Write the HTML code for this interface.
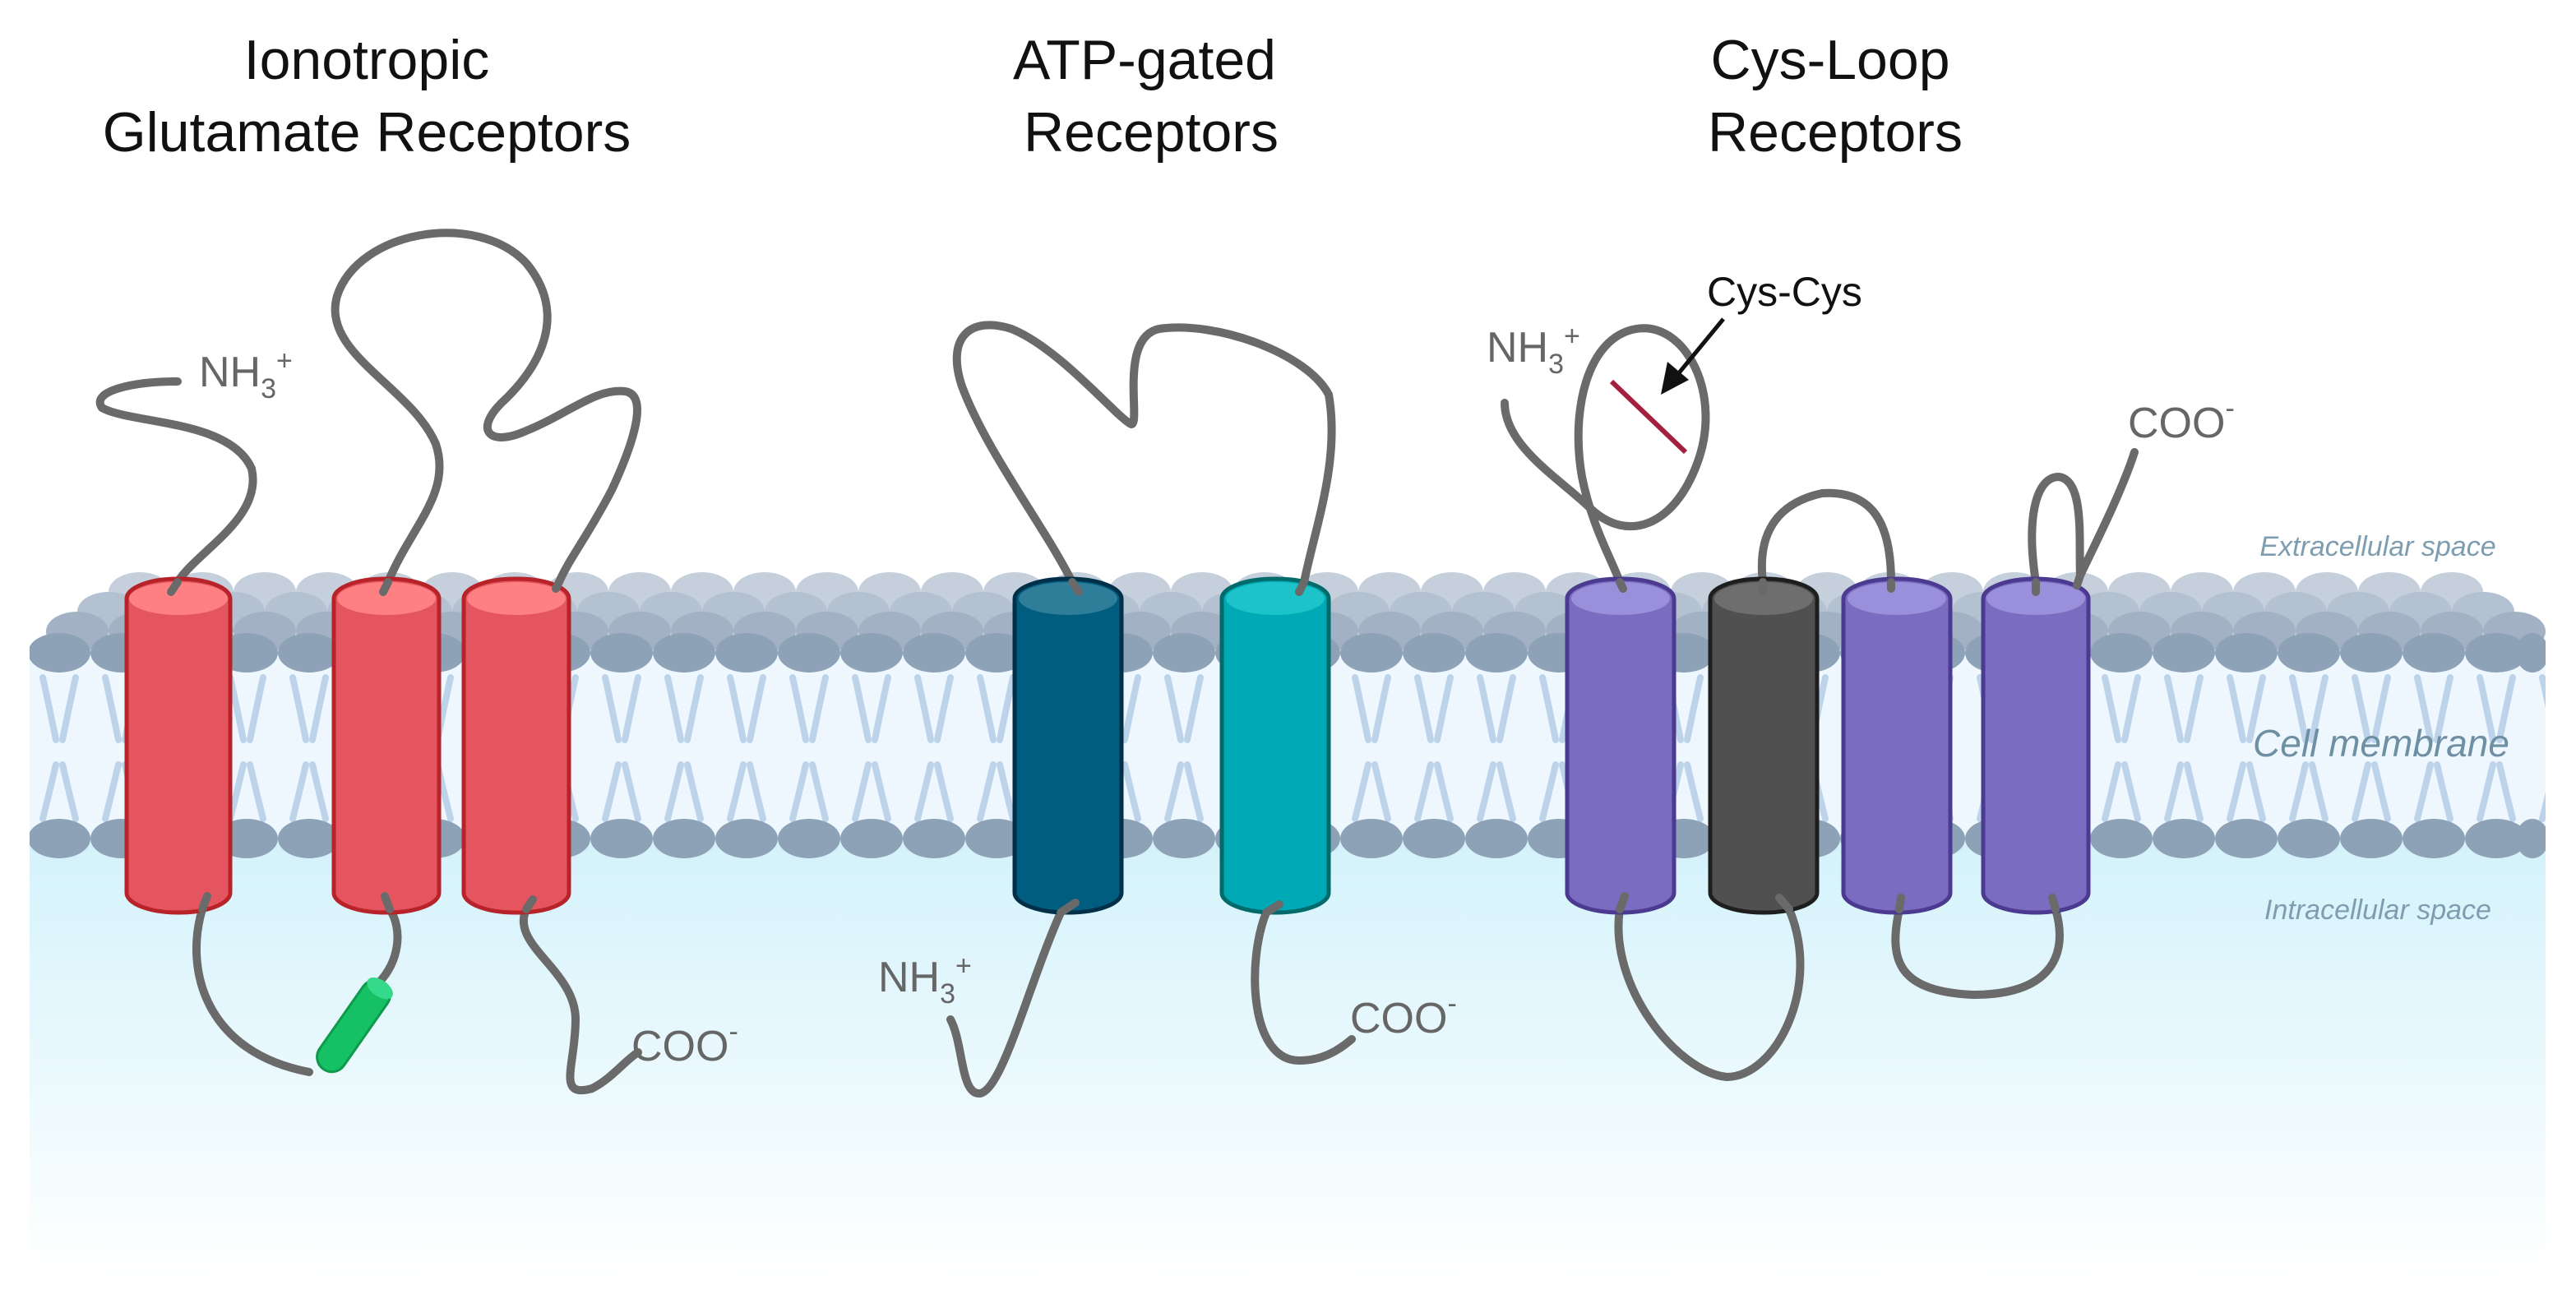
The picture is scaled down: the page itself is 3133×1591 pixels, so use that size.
<!DOCTYPE html>
<html><head><meta charset="utf-8"><style>
html,body{margin:0;padding:0;background:#fff;}
svg{display:block;}
text{font-family:"Liberation Sans",sans-serif;}
</style></head><body>
<svg width="3133" height="1591" viewBox="0 0 1566.5 795.5" xmlns="http://www.w3.org/2000/svg">
<defs>
<linearGradient id="intra" x1="0" y1="0" x2="0" y2="1">
<stop offset="0" stop-color="#d3f2fb"/><stop offset="1" stop-color="#ffffff"/>
</linearGradient>
<pattern id="tails" x="18" y="0" width="38" height="800" patternUnits="userSpaceOnUse">
<g stroke="#bcd3ea" stroke-width="4" fill="none" stroke-linecap="round">
<path d="M8,412 Q12,430 16,450"/><path d="M28,412 Q24,430 20,450"/>
<path d="M16,465 Q12,482 8,498"/><path d="M20,465 Q24,482 28,498"/>
</g>
</pattern>
<linearGradient id="red" x1="0" x2="1"><stop offset="0" stop-color="#e5535d"/><stop offset="1" stop-color="#e5575f"/></linearGradient>
</defs>
<!-- intracellular -->
<rect x="18" y="505" width="1530" height="275" fill="url(#intra)"/>
<!-- tails region -->
<rect x="18" y="400" width="1530" height="110" fill="#eef7fe"/>
<rect x="18" y="400" width="1530" height="110" fill="url(#tails)"/>
<!-- back heads rows -->
<g fill="#c6d0dc">
<ellipse cx="85" cy="360" rx="19" ry="12"/><ellipse cx="123" cy="360" rx="19" ry="12"/><ellipse cx="161" cy="360" rx="19" ry="12"/><ellipse cx="199" cy="360" rx="19" ry="12"/><ellipse cx="237" cy="360" rx="19" ry="12"/><ellipse cx="275" cy="360" rx="19" ry="12"/><ellipse cx="313" cy="360" rx="19" ry="12"/><ellipse cx="351" cy="360" rx="19" ry="12"/><ellipse cx="389" cy="360" rx="19" ry="12"/><ellipse cx="427" cy="360" rx="19" ry="12"/><ellipse cx="465" cy="360" rx="19" ry="12"/><ellipse cx="503" cy="360" rx="19" ry="12"/><ellipse cx="541" cy="360" rx="19" ry="12"/><ellipse cx="579" cy="360" rx="19" ry="12"/><ellipse cx="617" cy="360" rx="19" ry="12"/><ellipse cx="655" cy="360" rx="19" ry="12"/><ellipse cx="693" cy="360" rx="19" ry="12"/><ellipse cx="731" cy="360" rx="19" ry="12"/><ellipse cx="769" cy="360" rx="19" ry="12"/><ellipse cx="807" cy="360" rx="19" ry="12"/><ellipse cx="845" cy="360" rx="19" ry="12"/><ellipse cx="883" cy="360" rx="19" ry="12"/><ellipse cx="921" cy="360" rx="19" ry="12"/><ellipse cx="959" cy="360" rx="19" ry="12"/><ellipse cx="997" cy="360" rx="19" ry="12"/><ellipse cx="1035" cy="360" rx="19" ry="12"/><ellipse cx="1073" cy="360" rx="19" ry="12"/><ellipse cx="1111" cy="360" rx="19" ry="12"/><ellipse cx="1149" cy="360" rx="19" ry="12"/><ellipse cx="1187" cy="360" rx="19" ry="12"/><ellipse cx="1225" cy="360" rx="19" ry="12"/><ellipse cx="1263" cy="360" rx="19" ry="12"/><ellipse cx="1301" cy="360" rx="19" ry="12"/><ellipse cx="1339" cy="360" rx="19" ry="12"/><ellipse cx="1377" cy="360" rx="19" ry="12"/><ellipse cx="1415" cy="360" rx="19" ry="12"/><ellipse cx="1453" cy="360" rx="19" ry="12"/><ellipse cx="1491" cy="360" rx="19" ry="12"/>
</g>
<g fill="#b4c1d0">
<ellipse cx="66" cy="372" rx="19" ry="12"/><ellipse cx="104" cy="372" rx="19" ry="12"/><ellipse cx="142" cy="372" rx="19" ry="12"/><ellipse cx="180" cy="372" rx="19" ry="12"/><ellipse cx="218" cy="372" rx="19" ry="12"/><ellipse cx="256" cy="372" rx="19" ry="12"/><ellipse cx="294" cy="372" rx="19" ry="12"/><ellipse cx="332" cy="372" rx="19" ry="12"/><ellipse cx="370" cy="372" rx="19" ry="12"/><ellipse cx="408" cy="372" rx="19" ry="12"/><ellipse cx="446" cy="372" rx="19" ry="12"/><ellipse cx="484" cy="372" rx="19" ry="12"/><ellipse cx="522" cy="372" rx="19" ry="12"/><ellipse cx="560" cy="372" rx="19" ry="12"/><ellipse cx="598" cy="372" rx="19" ry="12"/><ellipse cx="636" cy="372" rx="19" ry="12"/><ellipse cx="674" cy="372" rx="19" ry="12"/><ellipse cx="712" cy="372" rx="19" ry="12"/><ellipse cx="750" cy="372" rx="19" ry="12"/><ellipse cx="788" cy="372" rx="19" ry="12"/><ellipse cx="826" cy="372" rx="19" ry="12"/><ellipse cx="864" cy="372" rx="19" ry="12"/><ellipse cx="902" cy="372" rx="19" ry="12"/><ellipse cx="940" cy="372" rx="19" ry="12"/><ellipse cx="978" cy="372" rx="19" ry="12"/><ellipse cx="1016" cy="372" rx="19" ry="12"/><ellipse cx="1054" cy="372" rx="19" ry="12"/><ellipse cx="1092" cy="372" rx="19" ry="12"/><ellipse cx="1130" cy="372" rx="19" ry="12"/><ellipse cx="1168" cy="372" rx="19" ry="12"/><ellipse cx="1206" cy="372" rx="19" ry="12"/><ellipse cx="1244" cy="372" rx="19" ry="12"/><ellipse cx="1282" cy="372" rx="19" ry="12"/><ellipse cx="1320" cy="372" rx="19" ry="12"/><ellipse cx="1358" cy="372" rx="19" ry="12"/><ellipse cx="1396" cy="372" rx="19" ry="12"/><ellipse cx="1434" cy="372" rx="19" ry="12"/><ellipse cx="1472" cy="372" rx="19" ry="12"/><ellipse cx="1510" cy="372" rx="19" ry="12"/>
</g>
<g fill="#a2b2c4">
<ellipse cx="47" cy="384" rx="19" ry="12"/><ellipse cx="85" cy="384" rx="19" ry="12"/><ellipse cx="123" cy="384" rx="19" ry="12"/><ellipse cx="161" cy="384" rx="19" ry="12"/><ellipse cx="199" cy="384" rx="19" ry="12"/><ellipse cx="237" cy="384" rx="19" ry="12"/><ellipse cx="275" cy="384" rx="19" ry="12"/><ellipse cx="313" cy="384" rx="19" ry="12"/><ellipse cx="351" cy="384" rx="19" ry="12"/><ellipse cx="389" cy="384" rx="19" ry="12"/><ellipse cx="427" cy="384" rx="19" ry="12"/><ellipse cx="465" cy="384" rx="19" ry="12"/><ellipse cx="503" cy="384" rx="19" ry="12"/><ellipse cx="541" cy="384" rx="19" ry="12"/><ellipse cx="579" cy="384" rx="19" ry="12"/><ellipse cx="617" cy="384" rx="19" ry="12"/><ellipse cx="655" cy="384" rx="19" ry="12"/><ellipse cx="693" cy="384" rx="19" ry="12"/><ellipse cx="731" cy="384" rx="19" ry="12"/><ellipse cx="769" cy="384" rx="19" ry="12"/><ellipse cx="807" cy="384" rx="19" ry="12"/><ellipse cx="845" cy="384" rx="19" ry="12"/><ellipse cx="883" cy="384" rx="19" ry="12"/><ellipse cx="921" cy="384" rx="19" ry="12"/><ellipse cx="959" cy="384" rx="19" ry="12"/><ellipse cx="997" cy="384" rx="19" ry="12"/><ellipse cx="1035" cy="384" rx="19" ry="12"/><ellipse cx="1073" cy="384" rx="19" ry="12"/><ellipse cx="1111" cy="384" rx="19" ry="12"/><ellipse cx="1149" cy="384" rx="19" ry="12"/><ellipse cx="1187" cy="384" rx="19" ry="12"/><ellipse cx="1225" cy="384" rx="19" ry="12"/><ellipse cx="1263" cy="384" rx="19" ry="12"/><ellipse cx="1301" cy="384" rx="19" ry="12"/><ellipse cx="1339" cy="384" rx="19" ry="12"/><ellipse cx="1377" cy="384" rx="19" ry="12"/><ellipse cx="1415" cy="384" rx="19" ry="12"/><ellipse cx="1453" cy="384" rx="19" ry="12"/><ellipse cx="1491" cy="384" rx="19" ry="12"/><ellipse cx="1529" cy="384" rx="19" ry="12"/>
</g>
<g fill="#8ea2b7">
<ellipse cx="36" cy="397" rx="19" ry="12"/><ellipse cx="74" cy="397" rx="19" ry="12"/><ellipse cx="112" cy="397" rx="19" ry="12"/><ellipse cx="150" cy="397" rx="19" ry="12"/><ellipse cx="188" cy="397" rx="19" ry="12"/><ellipse cx="226" cy="397" rx="19" ry="12"/><ellipse cx="264" cy="397" rx="19" ry="12"/><ellipse cx="302" cy="397" rx="19" ry="12"/><ellipse cx="340" cy="397" rx="19" ry="12"/><ellipse cx="378" cy="397" rx="19" ry="12"/><ellipse cx="416" cy="397" rx="19" ry="12"/><ellipse cx="454" cy="397" rx="19" ry="12"/><ellipse cx="492" cy="397" rx="19" ry="12"/><ellipse cx="530" cy="397" rx="19" ry="12"/><ellipse cx="568" cy="397" rx="19" ry="12"/><ellipse cx="606" cy="397" rx="19" ry="12"/><ellipse cx="644" cy="397" rx="19" ry="12"/><ellipse cx="682" cy="397" rx="19" ry="12"/><ellipse cx="720" cy="397" rx="19" ry="12"/><ellipse cx="758" cy="397" rx="19" ry="12"/><ellipse cx="796" cy="397" rx="19" ry="12"/><ellipse cx="834" cy="397" rx="19" ry="12"/><ellipse cx="872" cy="397" rx="19" ry="12"/><ellipse cx="910" cy="397" rx="19" ry="12"/><ellipse cx="948" cy="397" rx="19" ry="12"/><ellipse cx="986" cy="397" rx="19" ry="12"/><ellipse cx="1024" cy="397" rx="19" ry="12"/><ellipse cx="1062" cy="397" rx="19" ry="12"/><ellipse cx="1100" cy="397" rx="19" ry="12"/><ellipse cx="1138" cy="397" rx="19" ry="12"/><ellipse cx="1176" cy="397" rx="19" ry="12"/><ellipse cx="1214" cy="397" rx="19" ry="12"/><ellipse cx="1252" cy="397" rx="19" ry="12"/><ellipse cx="1290" cy="397" rx="19" ry="12"/><ellipse cx="1328" cy="397" rx="19" ry="12"/><ellipse cx="1366" cy="397" rx="19" ry="12"/><ellipse cx="1404" cy="397" rx="19" ry="12"/><ellipse cx="1442" cy="397" rx="19" ry="12"/><ellipse cx="1480" cy="397" rx="19" ry="12"/><ellipse cx="1518" cy="397" rx="19" ry="12"/><ellipse cx="1540" cy="397" rx="10" ry="12"/>
</g>
<g fill="#8ea2b7">
<ellipse cx="36" cy="510" rx="19" ry="12"/><ellipse cx="74" cy="510" rx="19" ry="12"/><ellipse cx="112" cy="510" rx="19" ry="12"/><ellipse cx="150" cy="510" rx="19" ry="12"/><ellipse cx="188" cy="510" rx="19" ry="12"/><ellipse cx="226" cy="510" rx="19" ry="12"/><ellipse cx="264" cy="510" rx="19" ry="12"/><ellipse cx="302" cy="510" rx="19" ry="12"/><ellipse cx="340" cy="510" rx="19" ry="12"/><ellipse cx="378" cy="510" rx="19" ry="12"/><ellipse cx="416" cy="510" rx="19" ry="12"/><ellipse cx="454" cy="510" rx="19" ry="12"/><ellipse cx="492" cy="510" rx="19" ry="12"/><ellipse cx="530" cy="510" rx="19" ry="12"/><ellipse cx="568" cy="510" rx="19" ry="12"/><ellipse cx="606" cy="510" rx="19" ry="12"/><ellipse cx="644" cy="510" rx="19" ry="12"/><ellipse cx="682" cy="510" rx="19" ry="12"/><ellipse cx="720" cy="510" rx="19" ry="12"/><ellipse cx="758" cy="510" rx="19" ry="12"/><ellipse cx="796" cy="510" rx="19" ry="12"/><ellipse cx="834" cy="510" rx="19" ry="12"/><ellipse cx="872" cy="510" rx="19" ry="12"/><ellipse cx="910" cy="510" rx="19" ry="12"/><ellipse cx="948" cy="510" rx="19" ry="12"/><ellipse cx="986" cy="510" rx="19" ry="12"/><ellipse cx="1024" cy="510" rx="19" ry="12"/><ellipse cx="1062" cy="510" rx="19" ry="12"/><ellipse cx="1100" cy="510" rx="19" ry="12"/><ellipse cx="1138" cy="510" rx="19" ry="12"/><ellipse cx="1176" cy="510" rx="19" ry="12"/><ellipse cx="1214" cy="510" rx="19" ry="12"/><ellipse cx="1252" cy="510" rx="19" ry="12"/><ellipse cx="1290" cy="510" rx="19" ry="12"/><ellipse cx="1328" cy="510" rx="19" ry="12"/><ellipse cx="1366" cy="510" rx="19" ry="12"/><ellipse cx="1404" cy="510" rx="19" ry="12"/><ellipse cx="1442" cy="510" rx="19" ry="12"/><ellipse cx="1480" cy="510" rx="19" ry="12"/><ellipse cx="1518" cy="510" rx="19" ry="12"/><ellipse cx="1540" cy="510" rx="10" ry="12"/>
</g>
<rect x="0" y="340" width="18" height="200" fill="#fff"/>
<rect x="1548" y="340" width="20" height="200" fill="#fff"/>

<!-- labels -->
<g font-size="34" fill="#111" text-anchor="middle">
<text x="223" y="48">Ionotropic</text><text x="223" y="92">Glutamate Receptors</text>
<text x="696" y="48">ATP-gated</text><text x="700" y="92">Receptors</text>
<text x="1113" y="48">Cys-Loop</text><text x="1116" y="92">Receptors</text>
</g>
<g font-style="italic" fill="#7e9db0" text-anchor="middle">
<text x="1446" y="338" font-size="17">Extracellular space</text>
<text x="1448" y="460" font-size="23" fill="#6f8fa3">Cell membrane</text>
<text x="1446" y="559" font-size="17">Intracellular space</text>
</g>
<g fill="#666" font-size="26">
<text x="121" y="235">NH<tspan font-size="17" dy="7">3</tspan><tspan font-size="17" dy="-17">+</tspan></text>
<text x="384" y="645">COO<tspan font-size="17" dy="-12">-</tspan></text>
<text x="534" y="603">NH<tspan font-size="17" dy="7">3</tspan><tspan font-size="17" dy="-17">+</tspan></text>
<text x="821" y="628">COO<tspan font-size="17" dy="-12">-</tspan></text>
<text x="904" y="220">NH<tspan font-size="17" dy="7">3</tspan><tspan font-size="17" dy="-17">+</tspan></text>
<text x="1294" y="266">COO<tspan font-size="17" dy="-12">-</tspan></text>
</g>
<text x="1038" y="186" font-size="25" fill="#111">Cys-Cys</text>

<!-- chains -->
<g stroke="#6a6a6a" stroke-width="5" fill="none" stroke-linecap="round">
<path d="M108,232 C80,232 55,238 62,248 C80,258 140,255 153,285 C160,315 120,335 108,354"/>
<path d="M236,354 C250,320 275,300 265,270 C250,235 195,215 205,180 C218,140 290,128 320,160 C345,190 330,222 305,245 C288,262 298,272 320,262 C345,252 362,236 380,238 C395,240 385,270 372,298 C358,325 346,340 340,354"/>
<path d="M123,553 C112,590 125,640 188,652"/>
<path d="M237,553 C245,565 243,585 230,598"/>
<path d="M320,553 C310,575 350,590 350,620 C350,648 338,668 360,662 C372,656 380,645 388,640"/>
<path d="M652,354 C635,320 600,275 585,235 C575,205 590,192 615,200 C645,212 680,255 688,258 C694,258 680,205 705,200 C740,195 795,215 808,240 C815,280 800,320 793,354"/>
<path d="M645,555 C625,600 610,662 596,665 C584,666 586,635 578,620"/>
<path d="M770,555 C758,585 760,645 790,645 C805,645 815,638 822,632"/>
<path d="M915,245 C915,272 950,292 968,310 C990,330 1018,320 1032,282 C1048,240 1025,195 995,200 C965,205 955,250 962,290 C968,320 980,340 985,354"/>
<path d="M1072,354 C1068,320 1085,305 1108,300 C1140,298 1150,320 1150,354"/>
<path d="M1238,354 C1232,315 1238,290 1252,290 C1268,292 1264,330 1265,350 C1272,335 1290,300 1298,275"/>
<path d="M985,553 C978,600 1020,652 1050,655 C1080,655 1108,600 1088,553"/>
<path d="M1155,553 C1148,585 1155,603 1200,605 C1248,605 1258,580 1250,553"/>
</g>
<line x1="980" y1="232" x2="1025" y2="275" stroke="#a3203f" stroke-width="3"/>
<line x1="1048" y1="194" x2="1020" y2="228" stroke="#111" stroke-width="2.5"/>
<polygon points="1010,240 1014,220 1027,231" fill="#111"/>
<!-- green helix -->
<g transform="translate(215,624) rotate(-55)">
<rect x="-32" y="-9" width="64" height="18" rx="9" fill="#16c064" stroke="#0d9a4a" stroke-width="1.5"/>
<ellipse cx="28" cy="0" rx="5" ry="9" fill="#35d98a"/>
</g>

<!-- cylinders -->
<g stroke-width="2.5">
<g stroke="#b8232a" fill="#e5555f">
<rect x="77" y="352" width="63" height="203" rx="31" ry="12"/>
<rect x="203" y="352" width="64" height="203" rx="31" ry="12"/>
<rect x="282" y="352" width="64" height="203" rx="31" ry="12"/>
</g>
<g fill="#ff8083" stroke="none">
<ellipse cx="108.5" cy="364" rx="30" ry="10"/><ellipse cx="235" cy="364" rx="30" ry="10"/><ellipse cx="314" cy="364" rx="30" ry="10"/>
</g>
<rect x="617" y="352" width="65" height="203" rx="32" ry="12" fill="#005d80" stroke="#002f48"/>
<ellipse cx="649.5" cy="364" rx="30" ry="10" fill="#2e7e99"/>
<rect x="743" y="352" width="65" height="203" rx="32" ry="12" fill="#00a9b6" stroke="#006b6a"/>
<ellipse cx="775.5" cy="364" rx="30" ry="10" fill="#1cc3c8"/>
<g stroke="#4b3a8f" fill="#7a6dc1">
<rect x="953" y="352" width="65" height="203" rx="32" ry="12"/>
<rect x="1121" y="352" width="65" height="203" rx="32" ry="12"/>
<rect x="1206" y="352" width="64" height="203" rx="32" ry="12"/>
</g>
<g fill="#9a8fdb"><ellipse cx="985.5" cy="364" rx="30" ry="10"/><ellipse cx="1153.5" cy="364" rx="30" ry="10"/><ellipse cx="1238" cy="364" rx="30" ry="10"/></g>
<rect x="1040" y="352" width="65" height="203" rx="32" ry="12" fill="#505050" stroke="#1e1e1e"/>
<ellipse cx="1072.5" cy="364" rx="30" ry="10" fill="#6e6e6e"/>
</g>
<!-- chain stubs over cylinder tops -->
<g stroke="#6a6a6a" stroke-width="5" fill="none" stroke-linecap="round">
<path d="M108,354 L104,360"/><path d="M236,354 L233,360"/><path d="M340,354 L338,358"/>
<path d="M123,553 L126,545"/><path d="M237,553 L234,545"/><path d="M320,553 L324,547"/>
<path d="M652,354 L656,360"/><path d="M793,354 L790,360"/><path d="M645,555 L654,549"/><path d="M770,555 L778,550"/>
<path d="M985,354 L987,358"/><path d="M1072,354 L1072,360"/><path d="M1150,354 L1150,358"/><path d="M1238,354 L1238,360"/><path d="M1265,350 L1263,356"/>
<path d="M985,553 L988,545"/><path d="M1088,553 L1082,546"/><path d="M1155,553 L1156,546"/><path d="M1250,553 L1248,546"/>
</g>
</svg>
</body></html>
